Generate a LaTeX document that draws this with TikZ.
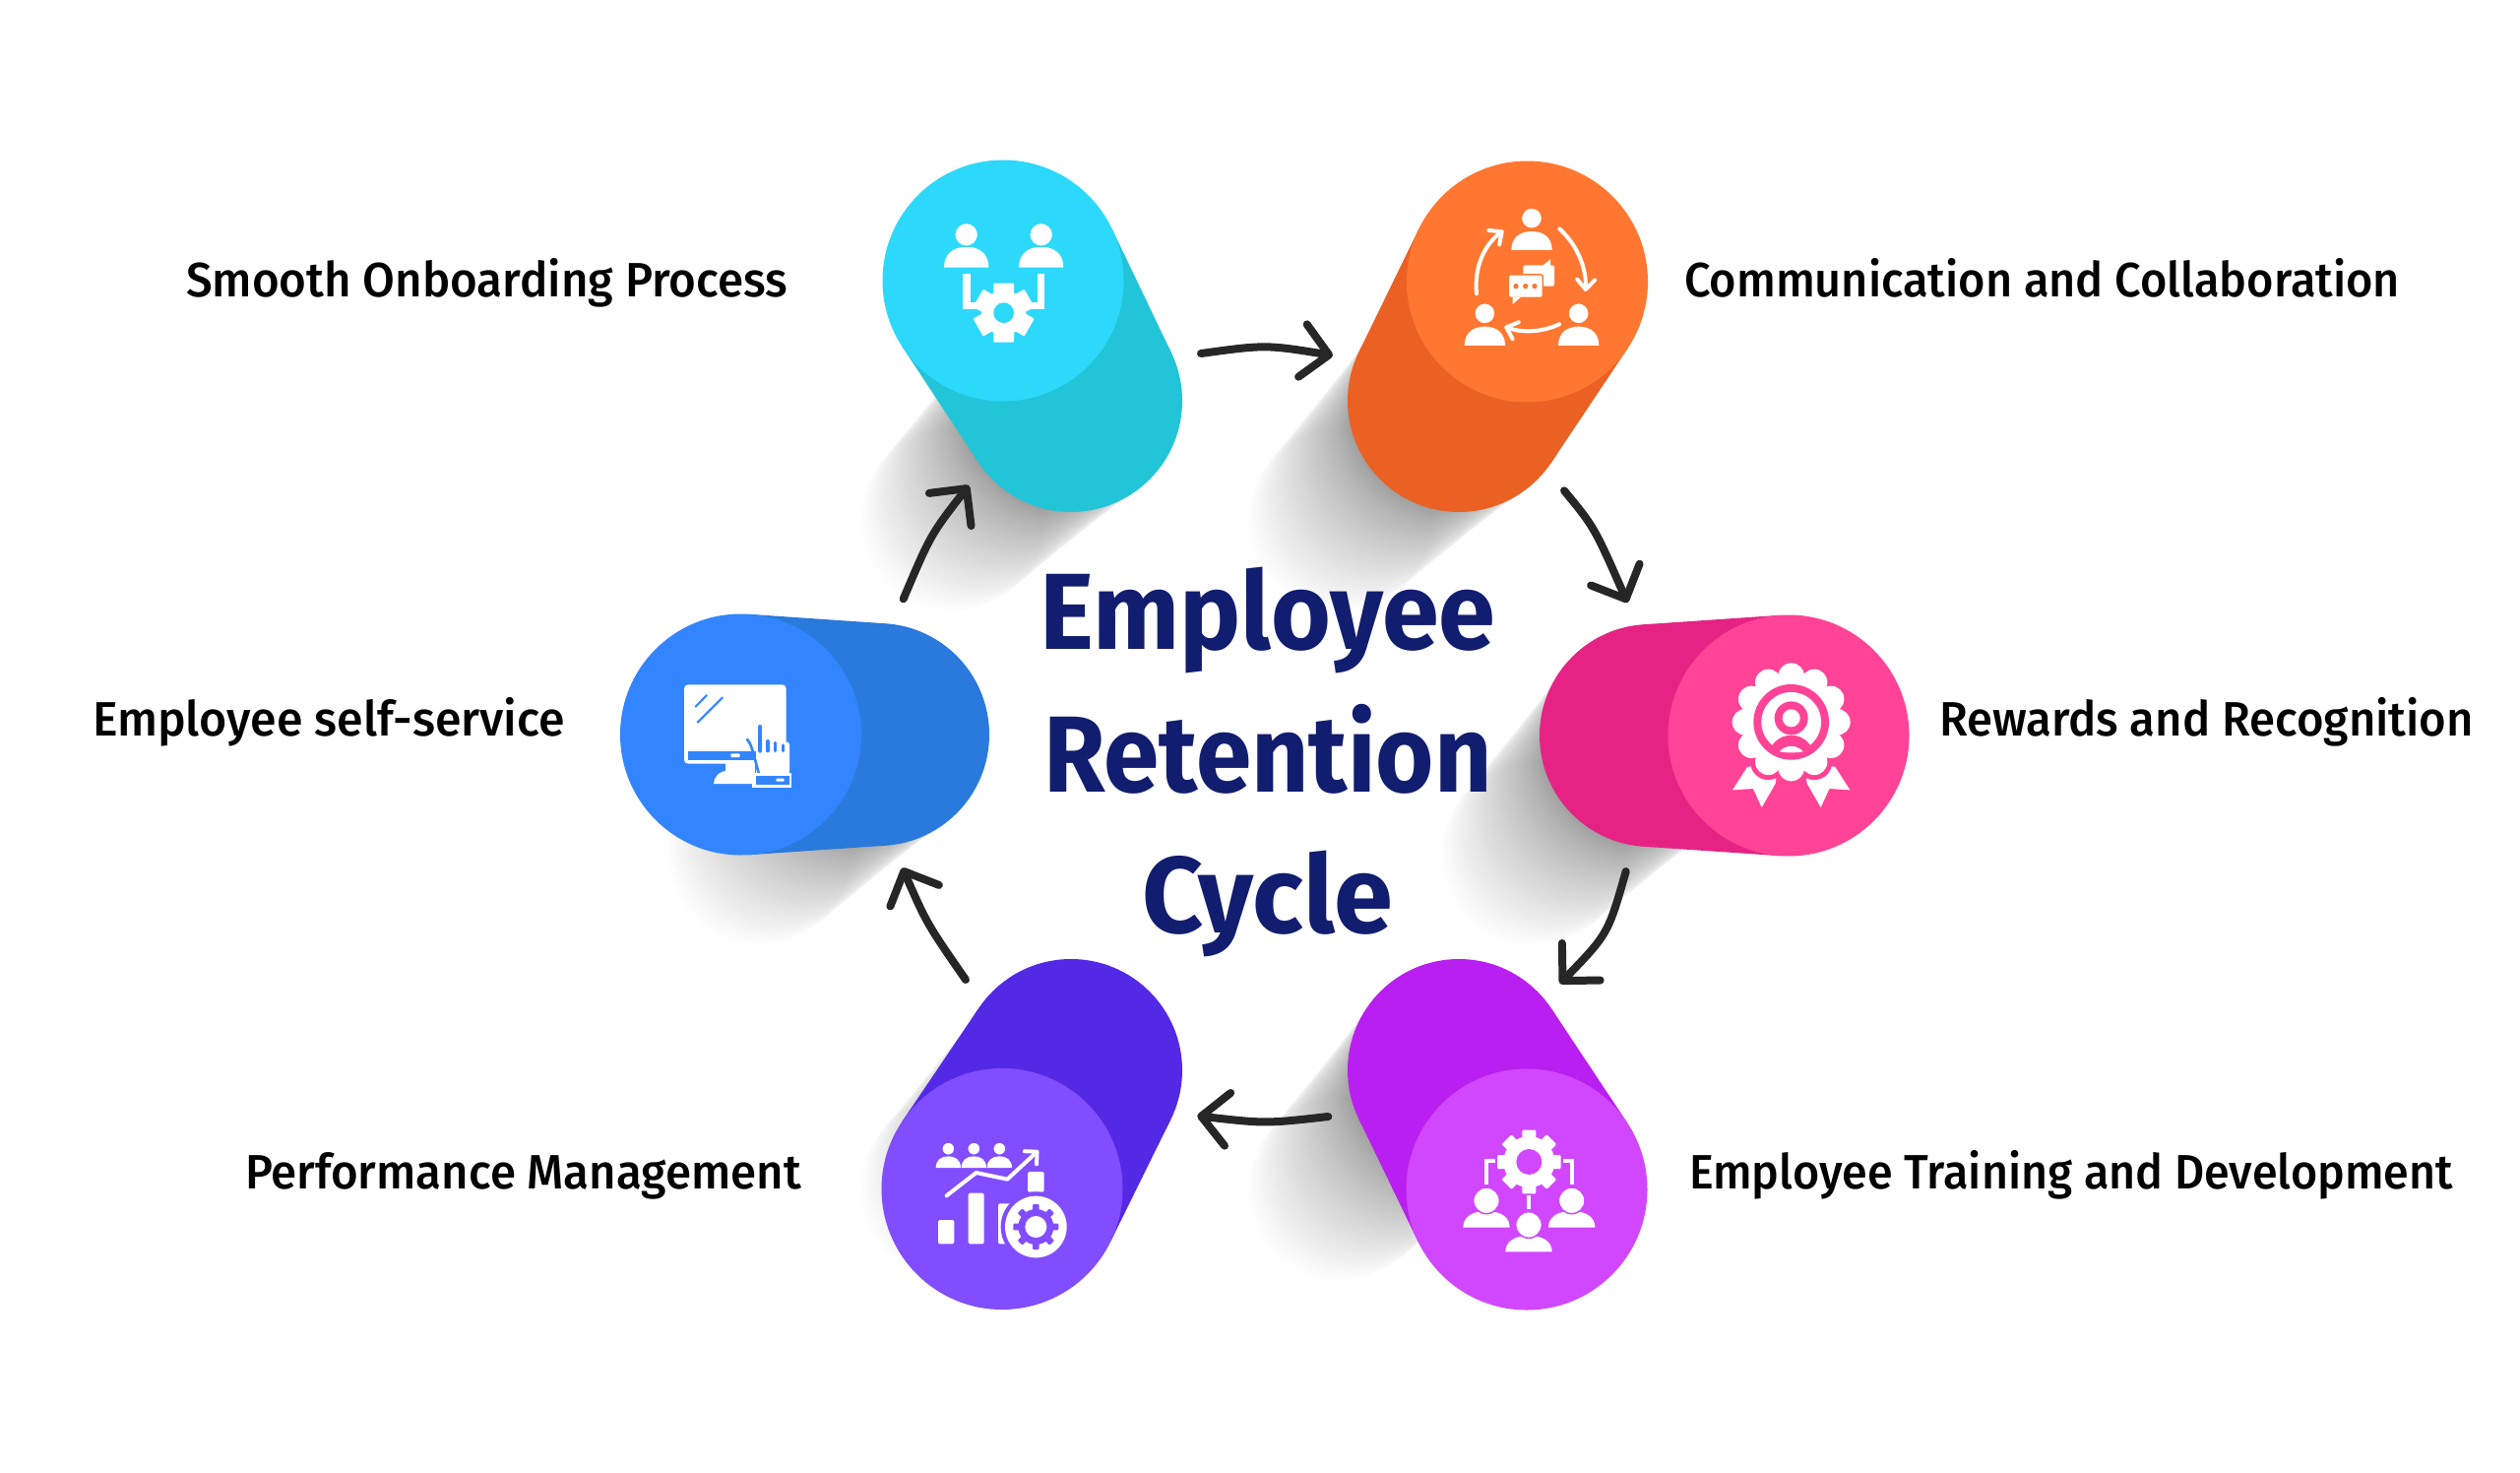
\documentclass[tikz,border=0pt]{standalone}
\usepackage{graphicx}
\usepackage{fontspec}
\usetikzlibrary{arrows.meta}
\newfontfamily\labfont{Fira Sans}[UprightFont={* Medium}]
\newfontfamily\headfont{Fira Sans}[UprightFont={* Bold}]
\definecolor{cyF}{HTML}{2DD9FA}\definecolor{cyB}{HTML}{22C5D8}
\definecolor{orF}{HTML}{FF7730}\definecolor{orB}{HTML}{EB6124}
\definecolor{piF}{HTML}{FF4396}\definecolor{piB}{HTML}{E62385}
\definecolor{maF}{HTML}{D147FF}\definecolor{maB}{HTML}{B91FF0}
\definecolor{viF}{HTML}{814DFF}\definecolor{viB}{HTML}{5429E5}
\definecolor{blF}{HTML}{3385FF}\definecolor{blB}{HTML}{2A79DC}
\definecolor{navy}{HTML}{111D6E}\definecolor{arrowdark}{HTML}{262626}
\tikzset{
  disc/.style={circle,inner sep=0pt,outer sep=0pt,draw=none},
  lab/.style={anchor=base west,inner sep=0pt,outer sep=0pt,text=black,font=\labfont\fontsize{49}{49}\selectfont},
  headline/.style={anchor=base,inner sep=0pt,outer sep=0pt,text=navy,font=\headfont\fontsize{110}{110}\selectfont},
  flow/.style={draw=arrowdark,line width=8pt,line cap=round,line join=round,
    -{Straight Barb[length=27pt,width=54pt,round]}},
  iconarrow/.style={draw=white,line width=4pt,line cap=round,line join=round,
    -{Straight Barb[length=10pt,width=18pt,round]}}
}
% long shadow: shrinking discs sliding down-left along the diagonal, sparser far out
\newcommand\castshadow[2]{%
  \foreach \i in {48,...,0}{%
    \pgfmathsetmacro\sl{pow(\i/48,1.3)*170*0.7071}%
    \pgfmathsetmacro\rr{113-\i/48*20}%
    \fill[black,opacity=0.0088] (#1-\sl,#2+\sl) circle[radius=\rr];
  }}
% capsule: name, back x,y, front x,y, back colour, front colour
\newcommand\capsule[7]{%
  \pgfmathsetmacro\th{atan2(#5-#3,#4-#2)}%
  \pgfmathsetmacro\dd{veclen(#4-#2,#5-#3)}%
  \pgfmathsetmacro\al{acos((113-122.5)/\dd)}%
  \fill[#6] ({#2+113*cos(\th+\al)},{#3+113*sin(\th+\al)})
    -- ({#4+122.5*cos(\th+\al)},{#5+122.5*sin(\th+\al)})
    -- ({#4+122.5*cos(\th-\al)},{#5+122.5*sin(\th-\al)})
    -- ({#2+113*cos(\th-\al)},{#3+113*sin(\th-\al)}) -- cycle;
  \node[disc,fill=#6,minimum size=226pt] (#1back) at (#2,#3) {};
  \node[disc,fill=#7,minimum size=245pt] (#1) at (#4,#5) {};}
% person: cx, head y, head r, body top, body bottom, half width, halo colour
\newcommand\person[7]{%
  \fill[white] (#1-#6,#5) .. controls (#1-#6,#4+0.3*#5-0.3*#4) and (#1-0.55*#6,#4) .. (#1,#4)
     .. controls (#1+0.55*#6,#4) and (#1+#6,#4+0.3*#5-0.3*#4) .. (#1+#6,#5) -- cycle;
  \fill[white,draw=#7,line width=1.5pt] (#1,#2) circle[radius=#3];}
% gear: cx, cy, body r, tip r, tooth width, half tooth count, colour
\newcommand\gearshape[7]{%
  \fill[#7] (#1,#2) circle[radius=#3];
  \foreach \k in {1,...,#6}{%
    \pgfmathsetmacro\ang{\k*180/#6}%
    \fill[#7,rounded corners=1pt,rotate around={\ang:(#1,#2)}] (#1-#5/2,#2-#4) rectangle (#1+#5/2,#2+#4);
  }}
\begin{document}
\begin{tikzpicture}[x=1pt,y=-1pt]
\useasboundingbox (0,0) rectangle (2560,1496);
\fill[white] (0,0) rectangle (2560,1496);
% shadows
\castshadow{1088}{407}
\castshadow{1482}{407}
\castshadow{1678}{747}
\castshadow{1482}{1087}
\castshadow{1088}{1087}
\castshadow{892}{746}
% capsules
\capsule{onboard}{1088}{407}{1019}{285}{cyB}{cyF}
\capsule{comm}{1482}{407}{1551.5}{286}{orB}{orF}
\capsule{reward}{1677}{747}{1817}{747}{piB}{piF}
\capsule{train}{1482}{1087}{1551}{1208}{maB}{maF}
\capsule{perf}{1088}{1087}{1018}{1207.5}{viB}{viF}
\capsule{self}{892}{746}{752.5}{746}{blB}{blF}

% ---- icon: onboarding
\begin{scope}[shift={(850,130)},scale=1/3]
  \person{395}{325}{36}{362}{425}{68}{cyF}
  \person{623}{325}{36}{362}{425}{68}{cyF}
  \draw[white,line width=7.3pt,line join=miter] (396,445) -- (396,542) -- (440,542);
  \draw[white,line width=7.3pt,line join=miter] (623,445) -- (623,542) -- (580,542);
  \gearshape{509}{563}{68}{90}{62}{3}{white}
  \fill[cyF] (509,563) circle[radius=31];
\end{scope}

% ---- icon: communication
\begin{scope}[shift={(1340,130)},scale=1/3]
  \person{648}{275}{32}{315}{372}{62}{orF}
  \person{505}{565}{32}{605}{663}{62}{orF}
  \person{791}{565}{32}{605}{663}{62}{orF}
  \draw[iconarrow] (480,505) .. controls (472,420) and (505,355) .. (562,312);
  \draw[iconarrow] (733,307) .. controls (790,360) and (815,430) .. (812,498);
  \draw[iconarrow] (732,598) .. controls (680,622) and (620,625) .. (565,605);
  \fill[white,rounded corners=2pt] (622,418) rectangle (717,482);
  \fill[white] (680,420) -- (705,400) -- (705,430) -- cycle;
  \fill[white,draw=orF,line width=1.5pt,rounded corners=2pt] (577,447) rectangle (682,517);
  \fill[white] (590,515) -- (590,537) -- (615,515) -- cycle;
  \foreach \dx in {600,629,657}{\fill[orF] (\dx,482) circle[radius=8];}
\end{scope}

% ---- icon: rewards
\begin{scope}[shift={(1680,600)},scale=1/3]
  \fill[white] (285,537) -- (240,607) -- (303,603) -- (329,660) -- (371,587) -- (380,520) -- cycle;
  \fill[white] (553,537) -- (598,607) -- (535,603) -- (509,660) -- (467,587) -- (458,520) -- cycle;
  \fill[piF] (419,400) circle[radius=155];
  \foreach \a in {0,30,...,330}{\fill[piF] (419,400) ++(\a:140) circle[radius=55];}
  \fill[white] (419,400) circle[radius=150];
  \foreach \a in {0,30,...,330}{\fill[white] (419,400) ++(\a:140) circle[radius=40];}
  \fill[piF] (419,400) circle[radius=115];
  \fill[white] (419,400) circle[radius=91];
  \begin{scope}
    \clip (419,400) circle[radius=95];
    \fill[piF] (419,510) circle[radius=70];
  \end{scope}
  \fill[white] (383,490) .. controls (400,468) and (438,468) .. (455,490) .. controls (430,494) and (408,494) .. cycle;
  \fill[piF] (419,388) circle[radius=51];
  \fill[white] (419,388) circle[radius=27];
\end{scope}

% ---- icon: training
\begin{scope}[shift={(1400,1060)},scale=1/3]
  \gearshape{460}{360}{78}{97}{42}{4}{white}
  \fill[maF] (460,360) circle[radius=39];
  \draw[white,line width=3.7pt,line join=miter] (330,430) -- (330,358) -- (356,358);
  \draw[white,line width=3.7pt,line join=miter] (590,430) -- (590,358) -- (564,358);
  \draw[white,line width=4pt] (460,463) -- (460,503);
  \person{330}{478}{40}{510}{560}{71}{maF}
  \person{590}{478}{40}{510}{560}{71}{maF}
  \person{459}{552}{40}{585}{634}{71}{maF}
\end{scope}

% ---- icon: performance
\begin{scope}[shift={(880,1060)},scale=1/3]
  \person{250}{320}{20}{343}{378}{38}{viF}
  \person{328}{320}{20}{343}{378}{38}{viF}
  \person{406}{320}{20}{343}{378}{38}{viF}
  \draw[draw=white,line width=4pt,line cap=round,line join=round,-{Straight Barb[length=9pt,width=18pt,round]}]
     (245,463) -- (335,393) -- (430,413) -- (525,325);
  \fill[white,rounded corners=1.5pt] (219,537) rectangle (268,610);
  \fill[white,rounded corners=1.5pt] (311,455) rectangle (359,610);
  \fill[white,rounded corners=1.5pt] (402,487) rectangle (470,610);
  \fill[white,rounded corners=1.5pt] (492,390) rectangle (542,452);
  \fill[viF] (517,558) circle[radius=107];
  \fill[white] (517,558) circle[radius=94];
  \gearshape{517}{558}{54}{69}{20}{4}{viF}
  \fill[white] (517,558) circle[radius=33];
\end{scope}

% ---- icon: self-service
\begin{scope}[shift={(640,620)},scale=1/3]
  \fill[white,rounded corners=4pt] (165,226) rectangle (476,467);
  \fill[blF] (176,428) rectangle (384,456);
  \fill[white,rounded corners=1pt] (307,436) rectangle (335,447);
  \draw[blF,line width=2pt,line cap=round] (200,293) -- (234,258);
  \draw[blF,line width=2pt,line cap=round] (206,341) -- (282,265);
  \fill[white] (290,465) rectangle (380,500);
  \fill[white] (255,528) .. controls (255,508) and (270,490) .. (300,487) -- (373,487) -- (373,528) -- cycle;
  \fill[white] (385,456) rectangle (486,496);
  \fill[white,rounded corners=3pt] (472,400) rectangle (486,496);
  \draw[blF,line width=2.6pt,line cap=round] (357,393) .. controls (372,408) and (378,445) .. (392,495);
  \draw[blF,line width=4pt,line cap=round] (397,354) -- (397,428);
  \draw[blF,line width=3.2pt,line cap=round] (420,398) -- (420,428);
  \draw[blF,line width=3.2pt,line cap=round] (443,403) -- (443,428);
  \draw[blF,line width=3.2pt,line cap=round] (466,411) -- (466,428);
  \fill[white] (373,495) rectangle (493,540);
  \fill[blF] (383,505) rectangle (485,530);
  \fill[white,rounded corners=1pt] (445,512) rectangle (470,521);
\end{scope}

% ---- connectors
\coordinate (a1s) at (1220,359);     \coordinate (a1c) at (1285.8,350); \coordinate (a1e) at (1354,361);
\coordinate (a2s) at (1589,498.3);   \coordinate (a2c) at (1619.6,535.3); \coordinate (a2e) at (1653.3,612);
\coordinate (a3s) at (1651.7,885);   \coordinate (a3c) at (1633.6,948.5); \coordinate (a3e) at (1584.7,999);
\coordinate (a4s) at (1349.3,1134);  \coordinate (a4c) at (1285.4,1141.2);\coordinate (a4e) at (1216.3,1133.3);
\coordinate (a5s) at (981,995);      \coordinate (a5c) at (941.5,938);    \coordinate (a5e) at (916.7,881.3);
\coordinate (a6s) at (917.7,608.3);  \coordinate (a6c) at (945.5,542.8);  \coordinate (a6e) at (984.3,493);
\draw[flow] (a1s) .. controls (a1c) .. (a1e);
\draw[flow] (a2s) .. controls (a2c) .. (a2e);
\draw[flow] (a3s) .. controls (a3c) .. (a3e);
\draw[flow] (a4s) .. controls (a4c) .. (a4e);
\draw[flow] (a5s) .. controls (a5c) .. (a5e);
\draw[flow] (a6s) .. controls (a6c) .. (a6e);

% ---- labels
\node[lab] (l1) at (189,301) {\resizebox{611pt}{\height}{Smooth Onboarding Process}};
\node[lab] (l2) at (1711,301) {\resizebox{727pt}{\height}{Communication and Collaboration}};
\node[lab] (l3) at (1970,747) {\resizebox{543pt}{\height}{Rewards and Recognition}};
\node[lab] (l4) at (1716,1207) {\resizebox{776pt}{\height}{Employee Training and Development}};
\node[lab] (l5) at (249,1207) {\resizebox{565pt}{\height}{Performance Management}};
\node[lab] (l6) at (94,747) {\resizebox{480pt}{\height}{Employee self-service}};

% ---- title
\node[headline] (t1) at (1288,659) {\resizebox{463pt}{\height}{Employee}};
\node[headline] (t2) at (1288,804) {\resizebox{455pt}{\height}{Retention}};
\node[headline] (t3) at (1288,947) {\resizebox{255pt}{\height}{Cycle}};
\end{tikzpicture}
\end{document}
